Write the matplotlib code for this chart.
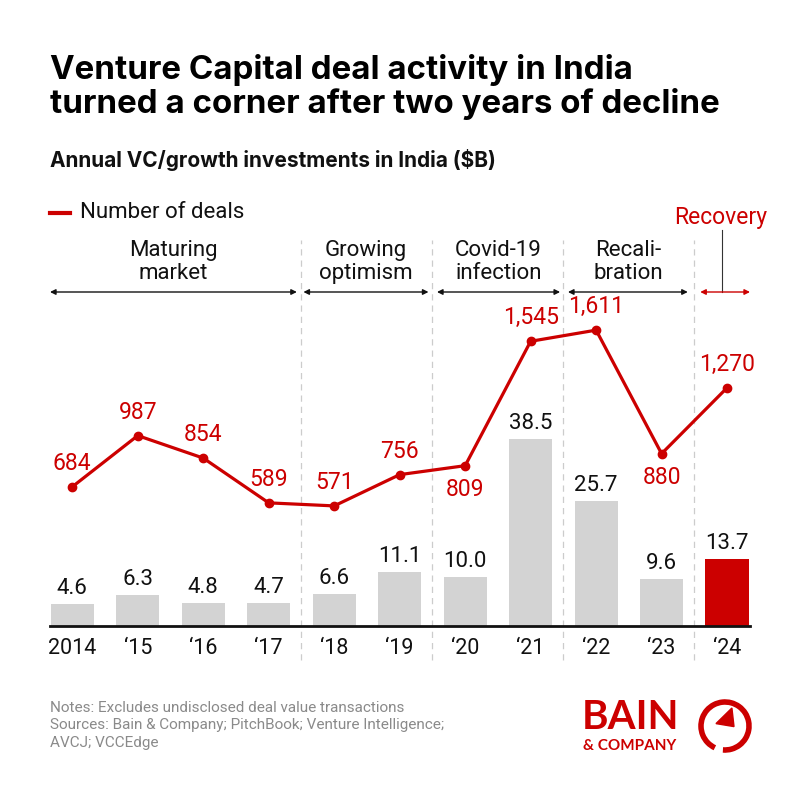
import matplotlib.pyplot as plt
from matplotlib.patches import Arc, Polygon

years = ["2014", "\u201815", "\u201816", "\u201817", "\u201818", "\u201819",
         "\u201820", "\u201821", "\u201822", "\u201823", "\u201824"]
investments = [4.6, 6.3, 4.8, 4.7, 6.6, 11.1, 10.0, 38.5, 25.7, 9.6, 13.7]
deals = [684, 987, 854, 589, 571, 756, 809, 1545, 1611, 880, 1270]
deal_label_below = [False, False, False, False, False, False, True, False, False, True, False]

phases = ["Maturing\nmarket", "Growing\noptimism", "Covid-19\ninfection", "Recali-\nbration"]
phase_spans = [(-0.34, 3.43), (3.53, 5.44), (5.57, 7.45), (7.57, 9.40)]
separators = [3.5, 5.5, 7.5, 9.5]

RED = "#cc0000"
GREY = "#d3d3d3"
plt.rcParams["font.family"] = ["Roboto", "DejaVu Sans"]

fig = plt.figure(figsize=(8, 8), dpi=100)
fig.patch.set_facecolor("white")

# main axes: baseline at y=626px, top at 200px
ax = fig.add_axes([50 / 800, 174 / 800, 700 / 800, 426 / 800])
ax.set_xlim(-0.34, 10.35)
ax.set_ylim(0, 426 / 4.87)

x = list(range(len(years)))
colors = [GREY] * (len(years) - 1) + [RED]
ax.bar(x, investments, width=0.66, color=colors, zorder=2)
for xi, v in zip(x, investments):
    ax.text(xi, v + 1.0, f"{v:.1f}", ha="center", va="bottom", fontsize=16, color="#111111")

for s in ["top", "right", "left"]:
    ax.spines[s].set_visible(False)
ax.spines["bottom"].set_linewidth(2)
ax.spines["bottom"].set_color("#111111")
ax.set_yticks([])
ax.set_xticks(x)
ax.set_xticklabels(years, fontsize=15.5, color="#111111")
ax.tick_params(axis="x", length=0, pad=9)

# separators
for s in separators:
    ax.axvline(s, ymin=-0.08, ymax=0.905, color="#cccccc", lw=0.9, ls=(0, (5, 4)),
               clip_on=False, zorder=1)

# line on twin axis
ax2 = ax.twinx()
ax2.set_ylim(-23.6 / 0.169, (426 - 23.6) / 0.169)
ax2.axis("off")
ax2.plot(x, deals, color=RED, lw=2.3, marker="o", markersize=6, zorder=3)
for xi, d, below in zip(x, deals, deal_label_below):
    if below:
        ax2.text(xi, d - 70, f"{d:,}", ha="center", va="top", fontsize=16.5, color=RED)
    else:
        ax2.text(xi, d + 70, f"{d:,}", ha="center", va="bottom", fontsize=16.5, color=RED)

# phase arrows and labels
arrow_y = (626 - 292) / 426
for label, (a, b) in zip(phases, phase_spans):
    ax.annotate("", xy=(a, arrow_y), xytext=(b, arrow_y),
                xycoords=("data", "axes fraction"), textcoords=("data", "axes fraction"),
                arrowprops=dict(arrowstyle="<|-|>", color="#111111", lw=1.0,
                                mutation_scale=8, shrinkA=0, shrinkB=0),
                annotation_clip=False)
    ax.text((a + b) / 2, arrow_y + 0.018, label, ha="center", va="bottom", fontsize=16,
            color="#111111", linespacing=1.12, transform=ax.get_xaxis_transform())

ax.annotate("", xy=(9.59, arrow_y), xytext=(10.35, arrow_y),
            xycoords=("data", "axes fraction"), textcoords=("data", "axes fraction"),
            arrowprops=dict(arrowstyle="<|-|>", color=RED, lw=1.0,
                            mutation_scale=8, shrinkA=0, shrinkB=0),
            annotation_clip=False)
ax.plot([9.93, 9.93], [arrow_y, (626 - 230) / 426], color="#333333", lw=0.8,
        transform=ax.get_xaxis_transform(), clip_on=False)
ax.text(9.9, (626 - 229) / 426, "Recovery", ha="center", va="bottom", fontsize=16.5,
        color=RED, transform=ax.get_xaxis_transform())

# legend
fig.lines.append(plt.Line2D([50 / 800, 70 / 800], [1 - 213 / 800] * 2, color=RED, lw=3,
                            transform=fig.transFigure))
fig.text(80 / 800, 1 - 213 / 800, "Number of deals", fontsize=16, va="center", color="#111111")

# titles
fig.text(50 / 800, 1 - 54 / 800,
         "Venture Capital deal activity in India\nturned a corner after two years of decline",
         fontsize=23.8, fontweight="bold", family=["Inter", "DejaVu Sans"], va="top",
         linespacing=1.1, color="#000000")
fig.text(50 / 800, 1 - 160 / 800, "Annual VC/growth investments in India ($B)",
         fontsize=15, fontweight="bold", family=["Inter", "DejaVu Sans"], va="center",
         color="#111111")

# notes
fig.text(50 / 800, 1 - 701 / 800,
         "Notes: Excludes undisclosed deal value transactions\n"
         "Sources: Bain & Company; PitchBook; Venture Intelligence;\nAVCJ; VCCEdge",
         fontsize=11, color="#8a8a8a", va="top", linespacing=1.3)

# logo
fig.text(582 / 800, 1 - 729 / 800, "BAIN", fontsize=29, fontweight="bold", color=RED,
         va="baseline", family=["Lato", "DejaVu Sans"])
fig.text(583 / 800, 1 - 750 / 800, "& COMPANY", fontsize=11, fontweight="bold", color=RED,
         va="baseline", family=["Lato", "DejaVu Sans"])
lax = fig.add_axes([695 / 800, 1 - 756 / 800, 60 / 800, 60 / 800])
lax.set_xlim(-1, 1)
lax.set_ylim(-1, 1)
lax.axis("off")
lax.add_patch(Arc((0, 0), 1.6, 1.6, theta1=-95, theta2=245, color=RED, lw=4))
lax.add_patch(Polygon([[-0.3, 0.08], [0.23, 0.6], [0.3, -0.02]], closed=True, color=RED))

fig.savefig("out.png", dpi=100, facecolor="white")
